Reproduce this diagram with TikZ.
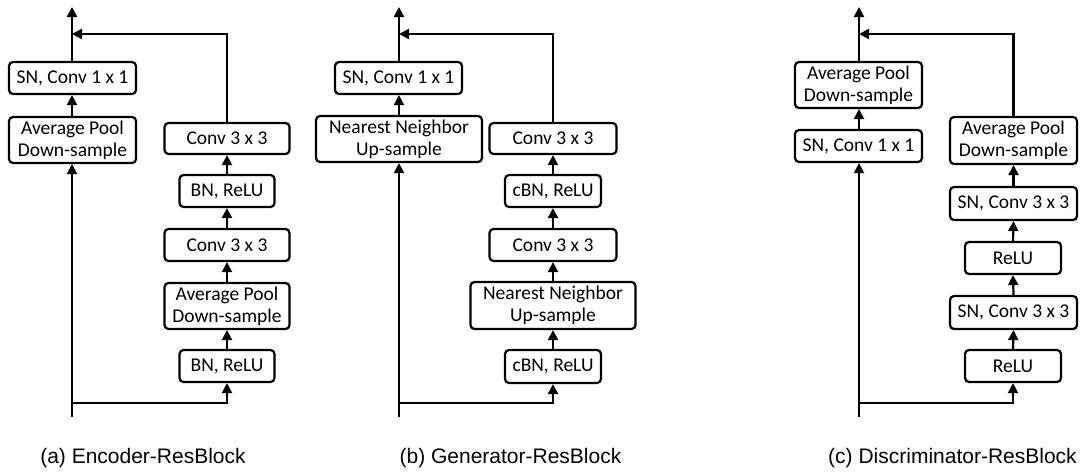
\documentclass[tikz,border=0pt]{standalone}
\usepackage{fontspec}
\setmainfont{Carlito}
\newfontfamily\capfont{Liberation Sans}
\usetikzlibrary{arrows.meta}
\begin{document}
\begin{tikzpicture}[x=1pt,y=-1pt,
  blk/.style={draw,line width=2.2pt,rounded corners=4pt,inner sep=0pt,align=center,
    font=\fontsize{19.5}{22}\selectfont},
  arr/.style={line width=2.2pt,-{Triangle[length=10pt,width=10pt]}},
  captxt/.style={font=\capfont\fontsize{21}{25}\selectfont,inner sep=0pt}]
\useasboundingbox (0,0) rectangle (1081,471);
\fill[white] (0,0) rectangle (1081,471);
% ---------- (a) ----------
\node[blk,minimum width=127pt,minimum height=32pt] (a1) at (72.5,78) {SN, Conv 1 x 1};
\node[blk,minimum width=127pt,minimum height=46pt] (a2) at (72.5,140) {Average Pool\\Down-sample};
\node[blk,minimum width=125pt,minimum height=31pt] (a3) at (227,138.5) {Conv 3 x 3};
\node[blk,minimum width=95pt,minimum height=32pt] (a4) at (227,191) {BN, ReLU};
\node[blk,minimum width=125pt,minimum height=32pt] (a5) at (227,245) {Conv 3 x 3};
\node[blk,minimum width=125pt,minimum height=46pt] (a6) at (227,306) {Average Pool\\Down-sample};
\node[blk,minimum width=95pt,minimum height=32pt] (a7) at (227,366) {BN, ReLU};
\coordinate (ain) at (72,417);
\coordinate (asp) at (72,403);
\coordinate (ajn) at (72,34);
\coordinate (aout) at (72,7);
\draw[arr] (ain) -- (a2.south -| ain);
\draw[arr] (a2.north -| ain) -- (a1.south -| ain);
\draw[arr] (a1.north -| ain) -- (aout);
\draw[arr] (asp) -- (asp -| a7.south) -- (a7.south);
\draw[arr] (a7.north) -- (a6.south);
\draw[arr] (a6.north) -- (a5.south);
\draw[arr] (a5.north) -- (a4.south);
\draw[arr] (a4.north) -- (a3.south);
\draw[arr] (a3.north) |- (ajn);
\node[captxt] (acap) at (143,458) {(a) Encoder-ResBlock};
% ---------- (b) ----------
\node[blk,minimum width=127pt,minimum height=32pt] (b1) at (398.5,78) {SN, Conv 1 x 1};
\node[blk,minimum width=166pt,minimum height=46pt] (b2) at (399,139) {Nearest Neighbor\\Up-sample};
\node[blk,minimum width=127pt,minimum height=31pt] (b3) at (553,138.5) {Conv 3 x 3};
\node[blk,minimum width=96pt,minimum height=32pt] (b4) at (553,191) {cBN, ReLU};
\node[blk,minimum width=127pt,minimum height=32pt] (b5) at (553,245) {Conv 3 x 3};
\node[blk,minimum width=165pt,minimum height=47pt] (b6) at (553,305.5) {Nearest Neighbor\\Up-sample};
\node[blk,minimum width=96pt,minimum height=33pt] (b7) at (553,366.5) {cBN, ReLU};
\coordinate (bin) at (399,417);
\coordinate (bsp) at (399,403);
\coordinate (bjn) at (399,34);
\coordinate (bout) at (399,7);
\draw[arr] (bin) -- (b2.south -| bin);
\draw[arr] (b2.north -| bin) -- (b1.south -| bin);
\draw[arr] (b1.north -| bin) -- (bout);
\draw[arr] (bsp) -- (bsp -| b7.south) -- (b7.south);
\draw[arr] (b7.north) -- (b6.south);
\draw[arr] (b6.north) -- (b5.south);
\draw[arr] (b5.north) -- (b4.south);
\draw[arr] (b4.north) -- (b3.south);
\draw[arr] (b3.north) |- (bjn);
\node[captxt] (bcap) at (510.5,458) {(b) Generator-ResBlock};
% ---------- (c) ----------
\node[blk,minimum width=127pt,minimum height=46pt] (c1) at (858.5,85) {Average Pool\\Down-sample};
\node[blk,minimum width=127pt,minimum height=32pt] (c2) at (858.5,146) {SN, Conv 1 x 1};
\node[blk,minimum width=127pt,minimum height=47pt] (c3) at (1013.5,140.5) {Average Pool\\Down-sample};
\node[blk,minimum width=127pt,minimum height=33pt] (c4) at (1013.5,203.5) {SN, Conv 3 x 3};
\node[blk,minimum width=96pt,minimum height=32pt] (c5) at (1013,258) {ReLU};
\node[blk,minimum width=127pt,minimum height=33pt] (c6) at (1013.5,312.5) {SN, Conv 3 x 3};
\node[blk,minimum width=96pt,minimum height=32pt] (c7) at (1013,366) {ReLU};
\coordinate (cin) at (859,417);
\coordinate (csp) at (859,403);
\coordinate (cjn) at (859,34);
\coordinate (cout) at (859,7);
\draw[arr] (cin) -- (c2.south -| cin);
\draw[arr] (c2.north -| cin) -- (c1.south -| cin);
\draw[arr] (c1.north -| cin) -- (cout);
\draw[arr] (csp) -- (csp -| c7.south) -- (c7.south);
\draw[arr] (c7.north) -- (c6.south);
\draw[arr] (c6.north) -- (c5.south);
\draw[arr] (c5.north) -- (c4.south);
\draw[arr] (c4.north) -- (c3.south);
\draw[arr] (c3.north) |- (cjn);
\node[captxt] (ccap) at (952.5,458) {(c) Discriminator-ResBlock};
\end{tikzpicture}
\end{document}
